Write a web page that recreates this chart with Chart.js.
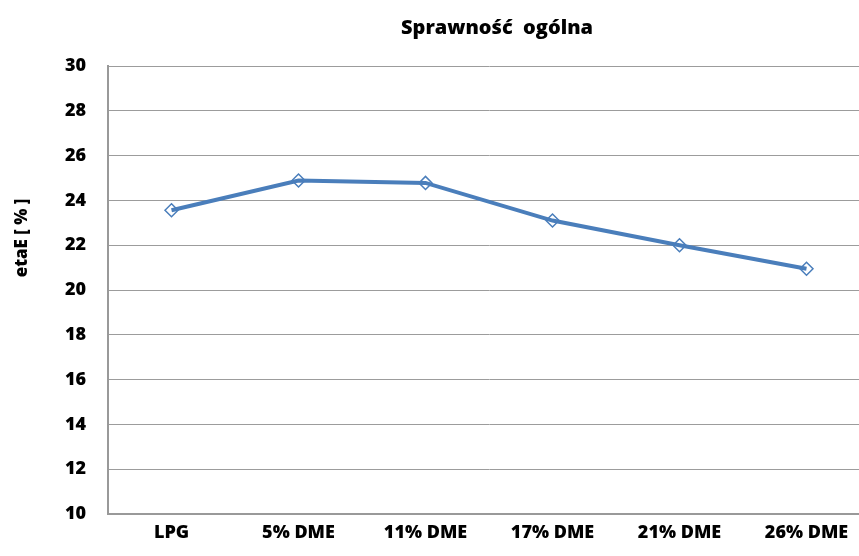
<!DOCTYPE html>
<html>
<head>
<meta charset="utf-8">
<script src="https://cdn.jsdelivr.net/npm/chart.js@4"></script>
<style>
  html, body { margin: 0; padding: 0; background: #fff; overflow: hidden; }
  #wrap { width: 859px; height: 556px; overflow: hidden; }
</style>
</head>
<body>
<div id="wrap"><canvas id="etaChart" width="880" height="556"></canvas></div>
<script>
// data
const categories = ['LPG', '5% DME', '11% DME', '17% DME', '21% DME', '26% DME'];
const etaE = [23.56, 24.89, 24.78, 23.1, 22.0, 20.95];
const yTicks = [10, 12, 14, 16, 18, 20, 22, 24, 26, 28, 30];

const chartTitle = 'Sprawność  ogólna';
const yTitle = 'etaE [ % ]';

const FONT = '"Open Sans", "Liberation Sans", sans-serif';

// title and y axis title drawn as text (Excel places them off-centre)
const textPlugin = {
  id: 'texts',
  afterDraw(chart) {
    const ctx = chart.ctx;
    ctx.save();
    ctx.fillStyle = '#000';
    ctx.textAlign = 'center';
    ctx.textBaseline = 'middle';
    ctx.font = '800 20px ' + FONT;
    ctx.fillText(chartTitle, 497, 28);
    ctx.translate(22, 238);
    ctx.rotate(-Math.PI / 2);
    ctx.font = '800 17px ' + FONT;
    ctx.fillText(yTitle, 0, 0);
    ctx.restore();
  }
};

new Chart(document.getElementById('etaChart').getContext('2d'), {
  type: 'line',
  data: {
    labels: categories,
    datasets: [{
      label: 'etaE',
      data: etaE,
      borderColor: '#4a7ebb',
      borderWidth: 4,
      tension: 0,
      pointStyle: 'rectRot',
      pointRadius: 6.5,
      pointBorderWidth: 1.5,
      pointBorderColor: '#4a7ebb',
      pointBackgroundColor: 'rgba(0,0,0,0)'
    }]
  },
  options: {
    responsive: false,
    animation: false,
    layout: { padding: { top: 66, right: 10, left: 0, bottom: 0 } },
    plugins: {
      legend: { display: false },
      title: { display: false },
      tooltip: { enabled: false }
    },
    scales: {
      x: {
        offset: true,
        grid: { display: false, drawTicks: false },
        border: { display: true, color: '#999', width: 2 },
        ticks: { color: '#000', padding: 8, font: { family: FONT, size: 18, weight: '800' } },
        afterFit(scale) { scale.height = 42; }
      },
      y: {
        min: 10,
        max: 30,
        afterBuildTicks(scale) { scale.ticks = yTicks.map(v => ({ value: v })); },
        grid: { color: '#9c9c9c', lineWidth: 1, drawTicks: false },
        border: { display: true, color: '#999', width: 2 },
        ticks: { color: '#000', padding: 22, autoSkip: false, font: { family: FONT, size: 18, weight: '800' } },
        afterFit(scale) { scale.width = 108; }
      }
    }
  },
  plugins: [textPlugin]
});
</script>
</body>
</html>
